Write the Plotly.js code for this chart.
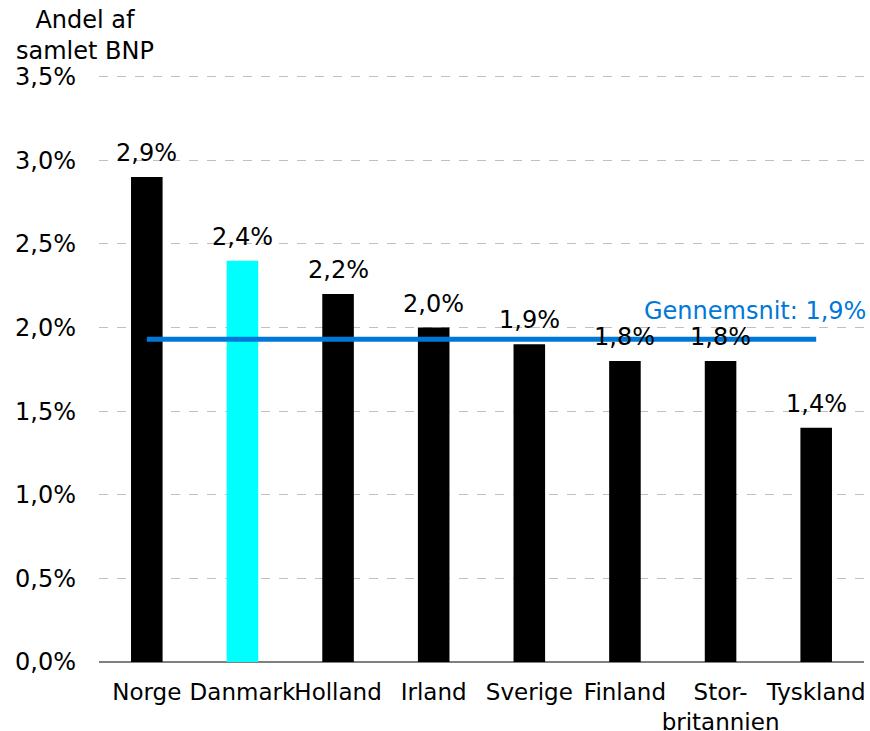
<!DOCTYPE html>
<html>
<head>
<meta charset="utf-8">
<script src="https://cdn.plot.ly/plotly-3.0.1.min.js"></script>
<style>html,body{margin:0;padding:0;background:#fff;}#chart{width:870px;height:731px;}</style>
</head>
<body>
<div id="chart"></div>
<script>
const categories = ["Norge", "Danmark", "Holland", "Irland", "Sverige", "Finland", "Stor-<br>britannien", "Tyskland"];
const values = [2.9, 2.4, 2.2, 2.0, 1.9, 1.8, 1.8, 1.4];
const barColors = ["#000000", "#00FFFF", "#000000", "#000000", "#000000", "#000000", "#000000", "#000000"];
const valueLabels = ["2,9%", "2,4%", "2,2%", "2,0%", "1,9%", "1,8%", "1,8%", "1,4%"];
const averageValue = 1.93;
const averageLabel = "Gennemsnit: 1,9%";
const yTickVals = [0, 0.5, 1.0, 1.5, 2.0, 2.5, 3.0, 3.5];
const yTickText = ["0,0%", "0,5%", "1,0%", "1,5%", "2,0%", "2,5%", "3,0%", "3,5%"];

const FONT = "DejaVu Sans, Verdana, sans-serif";

const traces = [
  {
    type: "bar",
    x: categories,
    y: values,
    marker: {color: barColors},
    width: 0.33,
    hoverinfo: "skip",
    showlegend: false
  },
  {
    type: "scatter",
    mode: "lines",
    x: [categories[0], categories[categories.length - 1]],
    y: [averageValue, averageValue],
    line: {color: "#0078D7", width: 5},
    hoverinfo: "skip",
    showlegend: false
  }
];

const annotations = categories.map((c, i) => ({
  x: c, y: values[i], xref: "x", yref: "y",
  text: valueLabels[i], showarrow: false,
  yanchor: "bottom", yshift: 8,
  font: {family: FONT, size: 24, color: "#000"}
}));
annotations.push({
  x: 1, y: 2.1, xref: "paper", yref: "y", xanchor: "right", yanchor: "middle", xshift: 4,
  text: averageLabel, showarrow: false,
  font: {family: FONT, size: 24, color: "#0078D7"}
});
annotations.push({
  xref: "paper", yref: "y", x: -0.018, y: 3.5, yshift: 10, xanchor: "center", yanchor: "bottom",
  text: "Andel af<br>samlet BNP", showarrow: false, align: "center",
  font: {family: FONT, size: 24, color: "#000"}
});

const layout = {
  width: 870, height: 731,
  margin: {l: 99, r: 6, t: 75, b: 69},
  paper_bgcolor: "#fff", plot_bgcolor: "#fff",
  font: {family: FONT, size: 24, color: "#000"},
  xaxis: {
    type: "category",
    range: [-0.5, 7.5],
    showgrid: false, zeroline: false,
    showline: false,
    ticks: "", tickangle: 0, ticklabelstandoff: 14,
    tickfont: {family: FONT, size: 23, color: "#000"},
    fixedrange: true
  },
  yaxis: {
    range: [0, 3.51],
    tickvals: yTickVals, ticktext: yTickText,
    showgrid: true, gridcolor: "#c0c0c0", griddash: "dash", gridwidth: 1,
    zeroline: true, zerolinecolor: "#808080", zerolinewidth: 2,
    showline: false, ticks: "", ticklabelstandoff: 22,
    tickfont: {family: FONT, size: 24, color: "#000"},
    fixedrange: true
  },
  annotations: annotations
};

Plotly.newPlot("chart", traces, layout, {displayModeBar: false, staticPlot: true});
</script>
</body>
</html>
